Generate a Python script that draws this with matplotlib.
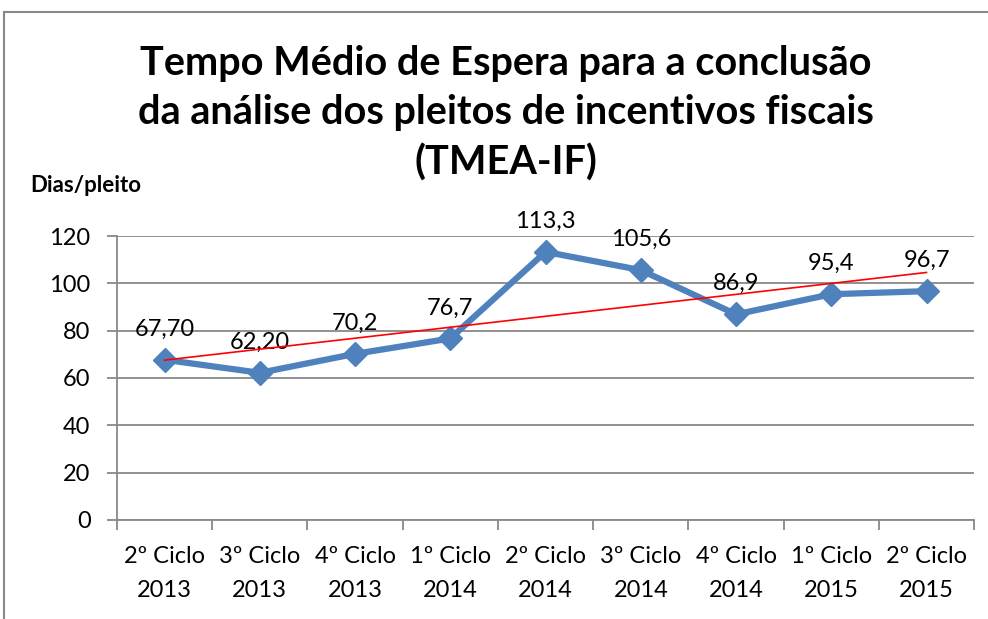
import numpy as np
import matplotlib.pyplot as plt
from matplotlib.patches import Rectangle

#%% Dados
ciclos = ["2º Ciclo\n2013", "3º Ciclo\n2013", "4º Ciclo\n2013", "1º Ciclo\n2014",
          "2º Ciclo\n2014", "3º Ciclo\n2014", "4º Ciclo\n2014", "1º Ciclo\n2015",
          "2º Ciclo\n2015"]
tmea = [67.70, 62.20, 70.2, 76.7, 113.3, 105.6, 86.9, 95.4, 96.7]
rotulos = ["67,70", "62,20", "70,2", "76,7", "113,3", "105,6", "86,9", "95,4", "96,7"]
yticks = [0, 20, 40, 60, 80, 100, 120]

plt.rcParams['font.family'] = ['Lato', 'DejaVu Sans']

#%% Figura
fig = plt.figure(figsize=(9.88, 6.19), dpi=100)
ax = fig.add_axes([0.1184, 0.160, 0.986 - 0.1184, 0.6187 - 0.160])

# moldura externa
fig.patches.append(Rectangle((4 / 988, -0.1), 1.2, 1 - 12 / 619 + 0.1,
                             transform=fig.transFigure, fill=False,
                             edgecolor='#888888', linewidth=1.5))

x = np.arange(len(tmea))
ax.plot(x, tmea, color='#4F81BD', linewidth=4.5, marker='D', markersize=12,
        zorder=3)

# linha de tendencia linear
a, b = np.polyfit(x, tmea, 1)
ax.plot(x, a * x + b, color='red', linewidth=1.2, zorder=4)

for xi, yi, txt in zip(x, tmea, rotulos):
    ax.annotate(txt, (xi, yi), xytext=(0, 22), textcoords='offset points',
                ha='center', va='center', fontsize=17)

ax.set_xlim(-0.5, len(tmea) - 0.5)
ax.set_ylim(0, 120)
ax.set_yticks(yticks)
ax.set_xticks(np.arange(-0.5, len(tmea)), labels=[])
ax.set_xticks(x, labels=ciclos, minor=True)
ax.tick_params(axis='x', which='minor', length=0, pad=19, labelsize=17)
ax.tick_params(axis='x', which='major', length=7, width=1.3, color='#888888')
ax.tick_params(axis='y', length=7, width=1.3, color='#888888', labelsize=17, pad=12)
for lab in ax.get_xticklabels(minor=True):
    lab.set_linespacing(1.75)

ax.grid(axis='y', color='#888888', linewidth=1.3)
ax.set_axisbelow(True)
for s in ['top', 'right']:
    ax.spines[s].set_visible(False)
for s in ['left', 'bottom']:
    ax.spines[s].set_color('#888888')
    ax.spines[s].set_linewidth(1.3)

fig.text(0.512, 0.817, "Tempo Médio de Espera para a conclusão\nda análise dos pleitos de incentivos fiscais\n(TMEA-IF)",
         ha='center', va='center', fontsize=28.5, fontweight='bold', linespacing=1.4)
fig.text(0.031, 0.701, "Dias/pleito", ha='left', va='center', fontsize=16,
         fontweight='bold')

plt.savefig('out.png', dpi=100)
